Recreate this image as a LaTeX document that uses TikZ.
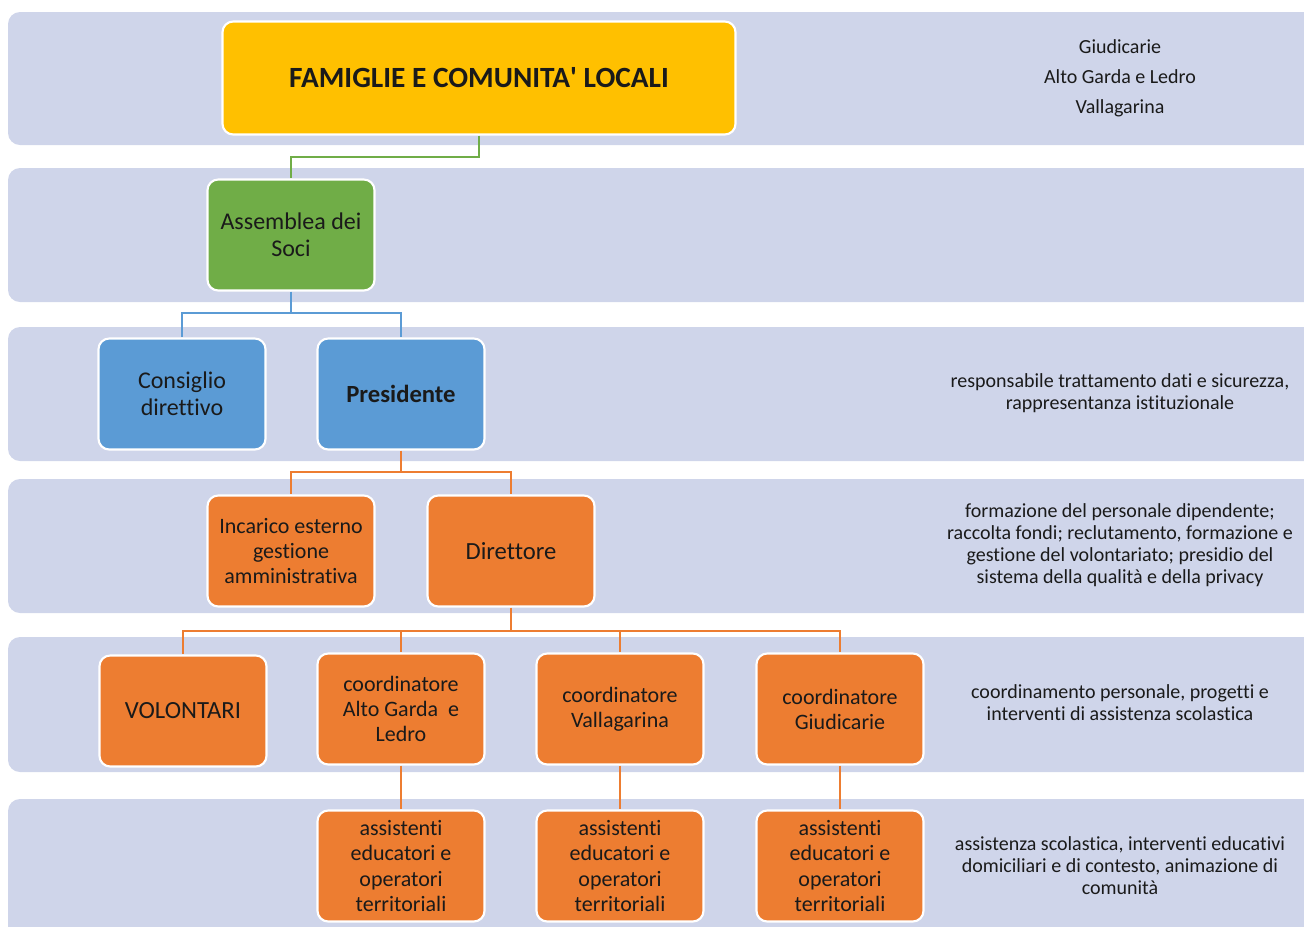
\documentclass[tikz,border=0pt]{standalone}
\usepackage{fontspec}
\setmainfont{Carlito}[Ligatures=NoCommon]
\usepackage{color}

\definecolor{fascia}{HTML}{CFD5EA}
\definecolor{oro}{HTML}{FFC000}
\definecolor{verde}{HTML}{70AD47}
\definecolor{blu}{HTML}{5B9BD5}
\definecolor{arancio}{HTML}{ED7D31}
\definecolor{testo}{HTML}{1A1A1A}

\tikzset{
  fascia/.style={fill=fascia, draw=none, rounded corners=9},
  casella/.style={draw=white, line width=1.6pt, rounded corners=8,
    minimum width=167*0.75pt, minimum height=111*0.75pt, inner sep=0pt,
    align=center, font=\fontsize{16.5}{18.8}\selectfont, text=testo},
  grande/.style={font=\fontsize{18.5}{20}\selectfont},
  nota/.style={align=center, font=\fontsize{15}{16.5}\selectfont, text=testo, inner sep=0pt},
  ramo/.style={line width=2.2pt}
}

\begin{document}
\begin{tikzpicture}[x=0.75pt, y=-0.75pt]
      \useasboundingbox (0,0) rectangle (1304,926);
      \clip (0,0) rectangle (1304,926);
      % fasce
      \fill [fascia] (8,12) rectangle (1330,145);
      \fill [fascia] (8,168) rectangle (1330,302);
      \fill [fascia] (8,327) rectangle (1330,461);
      \fill [fascia] (8,479) rectangle (1330,613);
      \fill [fascia] (8,637) rectangle (1330,772);
      \fill [fascia] (8,799) rectangle (1330,960);
      % caselle
      \node [casella, fill=oro, minimum width=513*0.75pt, minimum height=113*0.75pt,
        font=\fontsize{22}{24}\bfseries] (fam) at (479,78) {FAMIGLIE E COMUNITA\textquotesingle{} LOCALI};
      \node [casella, fill=verde, font=\fontsize{18}{20.2}\selectfont] (ass) at (291,235) {Assemblea dei\\Soci};
      \node [casella, fill=blu, font=\fontsize{18}{20.2}\selectfont] (cons) at (182,394) {Consiglio\\direttivo};
      \node [casella, fill=blu, font=\fontsize{18.5}{20}\bfseries] (pres) at (401,394) {Presidente};
      \node [casella, fill=arancio] (inc) at (291,551) {Incarico esterno\\gestione\\amministrativa};
      \node [casella, fill=arancio, grande] (dir) at (511,551) {Direttore};
      \node [casella, fill=arancio, grande] (vol) at (183,711) {VOLONTARI};
      \node [casella, fill=arancio] (cag) at (401,709) {coordinatore\\Alto Garda\ \ e\\Ledro};
      \node [casella, fill=arancio] (cva) at (620,709) {coordinatore\\Vallagarina};
      \node [casella, fill=arancio] (cgi) at (840,709) {coordinatore\\Giudicarie};
      \node [casella, fill=arancio] (aag) at (401,866) {assistenti\\educatori e\\operatori\\territoriali};
      \node [casella, fill=arancio] (ava) at (620,866) {assistenti\\educatori e\\operatori\\territoriali};
      \node [casella, fill=arancio] (agi) at (840,866) {assistenti\\educatori e\\operatori\\territoriali};
      % collegamenti
      \draw [ramo, verde] (fam.south) -- (fam.south |- 0,157) -| (ass.north);
      \draw [ramo, blu] (ass.south) -- (ass.south |- 0,313) -| (cons.north);
      \draw [ramo, blu] (ass.south |- 0,313) -| (pres.north);
      \draw [ramo, arancio] (pres.south) -- (pres.south |- 0,472) -| (inc.north);
      \draw [ramo, arancio] (pres.south |- 0,472) -| (dir.north);
      \draw [ramo, arancio] (dir.south) -- (dir.south |- 0,631) -| (vol.north);
      \draw [ramo, arancio] (dir.south |- 0,631) -| (cag.north);
      \draw [ramo, arancio] (dir.south |- 0,631) -| (cva.north);
      \draw [ramo, arancio] (dir.south |- 0,631) -| (cgi.north);
      \draw [ramo, arancio] (cag) -- (aag);
      \draw [ramo, arancio] (cva) -- (ava);
      \draw [ramo, arancio] (cgi) -- (agi);
      % note a destra
      \node [nota, font=\fontsize{15}{22.5}\selectfont] (n1) at (1120,78) {Giudicarie\\Alto Garda e Ledro\\Vallagarina};
      \node [nota] (n3) at (1120,393) {responsabile trattamento dati e sicurezza,\\rappresentanza istituzionale};
      \node [nota] (n4) at (1120,545) {formazione del personale dipendente;\\raccolta fondi; reclutamento, formazione e\\gestione del volontariato; presidio del\\sistema della qualità e della privacy};
      \node [nota] (n5) at (1120,703) {coordinamento personale, progetti e\\interventi di assistenza scolastica};
      \node [nota] (n6) at (1120,866) {assistenza scolastica, interventi educativi\\domiciliari e di contesto, animazione di\\comunità};
    \end{tikzpicture}
\end{document}
